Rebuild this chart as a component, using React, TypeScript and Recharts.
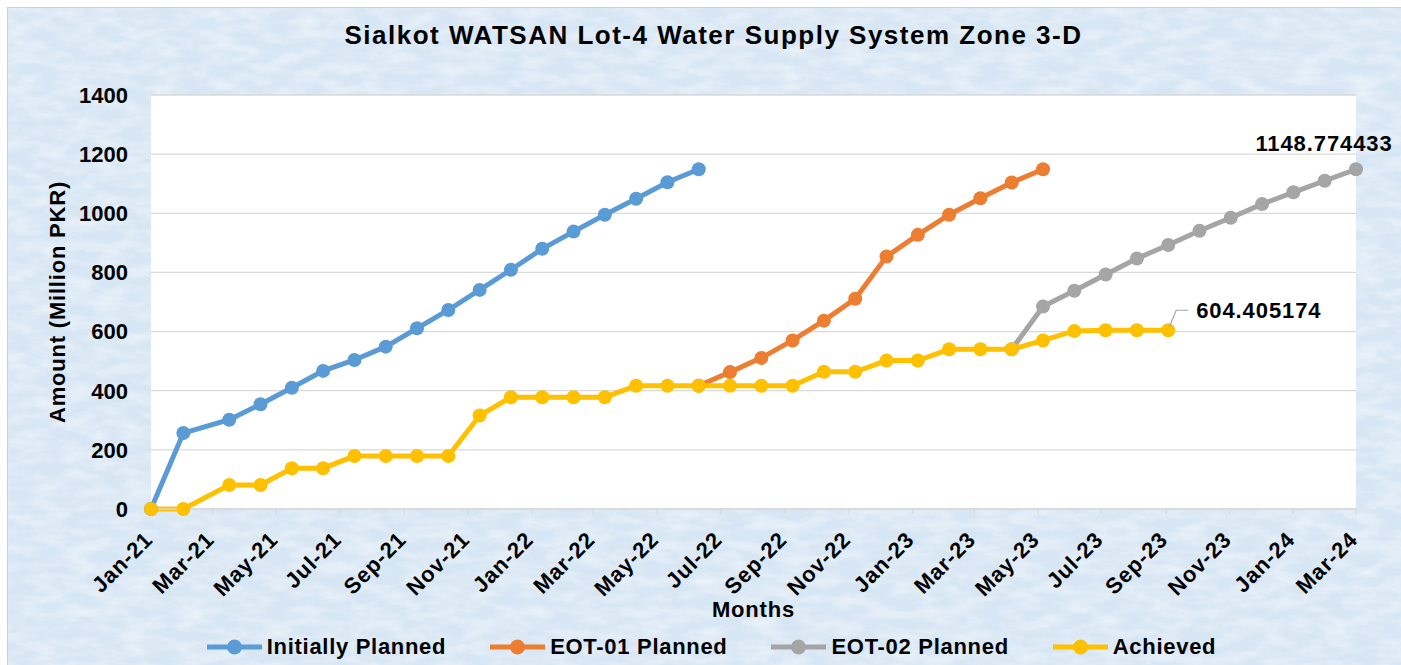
import React from 'react';
import { LineChart, Line, XAxis, YAxis, CartesianGrid, Legend, LabelList } from 'recharts';

// ---- data ----
const pointDates = [
  '2021-01-01', '2021-02-01', '2021-03-17', '2021-04-16', '2021-05-16', '2021-06-15',
  '2021-07-15', '2021-08-14', '2021-09-13', '2021-10-13', '2021-11-12', '2021-12-12',
  '2022-01-11', '2022-02-10', '2022-03-12', '2022-04-11', '2022-05-11', '2022-06-10',
  '2022-07-10', '2022-08-09', '2022-09-08', '2022-10-08', '2022-11-07', '2022-12-07',
  '2023-01-06', '2023-02-05', '2023-03-07', '2023-04-06', '2023-05-06', '2023-06-05',
  '2023-07-05', '2023-08-04', '2023-09-03', '2023-10-03', '2023-11-02', '2023-12-02',
  '2024-01-01', '2024-01-31', '2024-03-01',
];

const initiallyPlanned = [0, 257, 302, 354, 410, 467, 504, 549, 611, 673, 741, 809, 880, 938, 995, 1049, 1105, 1148.774433];
const initiallyPlannedStart = 0;

const eot01Planned = [417, 463, 511, 570, 637, 711, 854, 927, 995, 1051, 1104, 1148.774433];
const eot01PlannedStart = 17;

const eot02Planned = [540, 685, 738, 793, 847, 893, 941, 985, 1031, 1071, 1110, 1148.774433];
const eot02PlannedStart = 27;

const achieved = [0, 0, 81, 81, 138, 138, 179, 179, 179, 179, 316, 378, 378, 378, 378, 417, 417, 417, 417, 417, 417, 464, 464, 502, 502, 540, 540, 540, 570, 602, 604.4, 604.4, 604.405174];
const achievedStart = 0;

const tickLabels = ['Jan-21', 'Mar-21', 'May-21', 'Jul-21', 'Sep-21', 'Nov-21', 'Jan-22', 'Mar-22', 'May-22', 'Jul-22', 'Sep-22', 'Nov-22', 'Jan-23', 'Mar-23', 'May-23', 'Jul-23', 'Sep-23', 'Nov-23', 'Jan-24', 'Mar-24'];
const yTicks = [0, 200, 400, 600, 800, 1000, 1200, 1400];

const seriesNames = ['Initially Planned', 'EOT-01 Planned', 'EOT-02 Planned', 'Achieved'];
const seriesColors = ['#5B9BD5', '#ED7D31', '#A5A5A5', '#FFC000'];

const titleText = 'Sialkot WATSAN Lot-4 Water Supply System Zone 3-D';

// ---- helpers ----
const DAY = 86400000;
const origin = Date.parse('2021-01-01');
const toDay = (iso: string) => Math.round((Date.parse(iso) - origin) / DAY);
const MONTHS = ['Jan', 'Feb', 'Mar', 'Apr', 'May', 'Jun', 'Jul', 'Aug', 'Sep', 'Oct', 'Nov', 'Dec'];
const labelToDay = (lbl: string) => {
  const [m, y] = lbl.split('-');
  return Math.round((Date.UTC(2000 + Number(y), MONTHS.indexOf(m), 1) - origin) / DAY);
};
const tickDays = tickLabels.map(labelToDay);

const pick = (arr: number[], start: number, i: number) =>
  i >= start && i < start + arr.length ? arr[i - start] : null;

const data = pointDates.map((d, i) => ({
  day: toDay(d),
  initial: pick(initiallyPlanned, initiallyPlannedStart, i),
  eot1: pick(eot01Planned, eot01PlannedStart, i),
  eot2: pick(eot02Planned, eot02PlannedStart, i),
  achieved: pick(achieved, achievedStart, i),
}));

const FONT = '"Liberation Sans", Arial, sans-serif';

const XTick = (props: any) => {
  const { x, y, payload } = props;
  const idx = tickDays.indexOf(payload.value);
  return (
    <g transform={`translate(${x + 3},${y + 25}) rotate(-45)`}>
      <text x={0} y={0} textAnchor="end" fill="#000" fontSize={22} fontWeight={700} fontFamily={FONT} letterSpacing={0.9}>
        {idx >= 0 ? tickLabels[idx] : ''}
      </text>
    </g>
  );
};

const renderLegend = (props: any) => {
  const payload = [...(props.payload || [])].sort(
    (a: any, b: any) => seriesNames.indexOf(a.value) - seriesNames.indexOf(b.value)
  );
  return (
    <div style={{ display: 'flex', justifyContent: 'center', alignItems: 'center', gap: 44, paddingLeft: 14 }}>
      {payload.map((e: any) => (
        <div key={e.value} style={{ display: 'flex', alignItems: 'center' }}>
          <svg width={55} height={18} style={{ marginRight: 5 }}>
            <line x1={0} y1={9} x2={55} y2={9} stroke={e.color} strokeWidth={5} />
            <circle cx={27.5} cy={9} r={7.5} fill={e.color} />
          </svg>
          <span style={{ fontFamily: FONT, fontSize: 22, fontWeight: 700, color: '#000', letterSpacing: 0.7, lineHeight: '26px' }}>
            {e.value}
          </span>
        </div>
      ))}
    </div>
  );
};

const lastGray = eot02PlannedStart + eot02Planned.length - 1;
const lastAch = achievedStart + achieved.length - 1;

const GrayLabel = (p: any) => {
  if (p.index !== lastGray || p.value == null) return null;
  return (
    <text x={p.x - 32} y={p.y - 18} textAnchor="middle" fill="#000" fontSize={22} fontWeight={700} fontFamily={FONT} letterSpacing={0.9}>
      {String(p.value)}
    </text>
  );
};

const AchLabel = (p: any) => {
  if (p.index !== lastAch || p.value == null) return null;
  return (
    <g>
      <polyline points={`${p.x + 1},${p.y - 3} ${p.x + 8},${p.y - 20} ${p.x + 20},${p.y - 20}`} fill="none" stroke="#A6A6A6" strokeWidth={1.2} />
      <text x={p.x + 28} y={p.y - 12} textAnchor="start" fill="#000" fontSize={22} fontWeight={700} fontFamily={FONT} letterSpacing={0.9}>
        {String(p.value)}
      </text>
    </g>
  );
};

export default function App() {
  const keys = ['initial', 'eot1', 'eot2', 'achieved'];
  return (
    <div style={{ position: 'fixed', left: 0, top: 0, width: 1401, height: 665, background: '#fff', overflow: 'hidden' }}>
      <div style={{ position: 'absolute', left: 7, top: 7, width: 1393, height: 657, border: '1px solid #d0d0d0', background: '#d7e6f4', overflow: 'hidden' }}>
        <svg width={1393} height={657} style={{ position: 'absolute', left: 0, top: 0 }}>
          <defs>
            <filter id="marble" x="0" y="0" width="100%" height="100%">
              <feTurbulence type="fractalNoise" baseFrequency="0.035 0.09" numOctaves={3} seed={7} />
              <feColorMatrix type="matrix" values="0 0 0 0 1  0 0 0 0 1  0 0 0 0 1  1.6 0 0 0 -0.55" />
            </filter>
          </defs>
          <rect x={0} y={0} width={1393} height={657} filter="url(#marble)" opacity={0.55} />
        </svg>
        <div style={{ position: 'absolute', left: 9, top: 14, width: 1393, textAlign: 'center', fontFamily: FONT, fontSize: 26, fontWeight: 700, letterSpacing: 1.5, lineHeight: '26px', color: '#000' }}>
          {titleText}
        </div>
        <LineChart width={1393} height={657} data={data} margin={{ top: 87, right: 45, left: 0, bottom: 48 }} style={{ position: 'absolute', left: 0, top: 0 }}>
          <CartesianGrid vertical={false} stroke="#d9d9d9" strokeWidth={1.3} fill="#ffffff" />
          <XAxis
            dataKey="day"
            type="number"
            domain={[0, tickDays[tickDays.length - 1]]}
            ticks={tickDays}
            interval={0}
            height={108}
            stroke="#d9d9d9"
            strokeWidth={1.3}
            tickSize={5}
            tick={<XTick />}
            label={{ value: 'Months', position: 'insideBottom', offset: 0, fill: '#000', fontSize: 22, fontWeight: 700, fontFamily: FONT, letterSpacing: 0.8 }}
          />
          <YAxis
            type="number"
            domain={[0, 1400]}
            ticks={yTicks}
            width={143}
            axisLine={false}
            tickLine={false}
            tickSize={0}
            tickMargin={23}
            tick={{ fill: '#000', fontSize: 22, fontWeight: 700, fontFamily: FONT }}
            label={{ value: 'Amount (Million PKR)', angle: -90, position: 'insideLeft', offset: 49, style: { textAnchor: 'middle' }, fill: '#000', fontSize: 22, fontWeight: 700, fontFamily: FONT, letterSpacing: 0.8 }}
          />
          {keys.map((k, i) => (
            <Line
              key={k}
              dataKey={k}
              name={seriesNames[i]}
              type="linear"
              stroke={seriesColors[i]}
              strokeWidth={5}
              dot={{ r: 7, fill: seriesColors[i], stroke: seriesColors[i], strokeWidth: 0 }}
              activeDot={false}
              isAnimationActive={false}
              connectNulls={false}
            >
              {k === 'eot2' ? <LabelList dataKey="eot2" content={<GrayLabel />} /> : null}
              {k === 'achieved' ? <LabelList dataKey="achieved" content={<AchLabel />} /> : null}
            </Line>
          ))}
          <Legend content={renderLegend} verticalAlign="middle" align="center" layout="horizontal" wrapperStyle={{ top: 626, left: 0, width: 1393 }} />
        </LineChart>
      </div>
    </div>
  );
}
